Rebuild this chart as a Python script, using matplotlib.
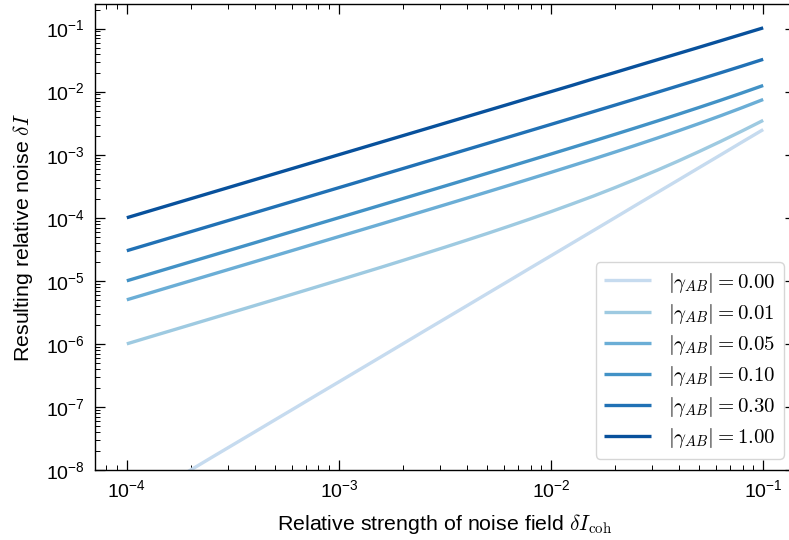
import numpy as np
import matplotlib
matplotlib.use("Agg")
import matplotlib.pyplot as plt
from matplotlib import ticker

plt.rcParams["font.family"] = ["Liberation Sans", "DejaVu Sans"]
plt.rcParams["mathtext.fontset"] = "cm"
plt.rcParams["axes.unicode_minus"] = False

# Relative strength of the noise field (sample positions along each curve)
noise_field = [1.0e-4, 1.26e-4, 1.58e-4, 2.0e-4, 2.51e-4, 3.16e-4, 3.98e-4, 5.01e-4, 6.31e-4, 7.94e-4,
               1.0e-3, 1.26e-3, 1.58e-3, 2.0e-3, 2.51e-3, 3.16e-3, 3.98e-3, 5.01e-3, 6.31e-3, 7.94e-3,
               1.0e-2, 1.26e-2, 1.58e-2, 2.0e-2, 2.51e-2, 3.16e-2, 3.98e-2, 5.01e-2, 6.31e-2, 7.94e-2,
               1.0e-1]

gamma_labels = ["0.00", "0.01", "0.05", "0.10", "0.30", "1.00"]

noise_g000 = [2.5e-9, 3.97e-9, 6.24e-9, 1.0e-8, 1.58e-8, 2.5e-8, 3.96e-8, 6.28e-8, 9.95e-8, 1.58e-7,
              2.5e-7, 3.97e-7, 6.24e-7, 1.0e-6, 1.58e-6, 2.5e-6, 3.96e-6, 6.28e-6, 9.95e-6, 1.58e-5,
              2.5e-5, 3.97e-5, 6.24e-5, 1.0e-4, 1.58e-4, 2.5e-4, 3.96e-4, 6.28e-4, 9.95e-4, 1.58e-3,
              2.5e-3]
noise_g001 = [1.0e-6, 1.264e-6, 1.586e-6, 2.01e-6, 2.526e-6, 3.185e-6, 4.02e-6, 5.07e-6, 6.41e-6, 8.10e-6,
              1.025e-5, 1.30e-5, 1.64e-5, 2.10e-5, 2.67e-5, 3.41e-5, 4.38e-5, 5.64e-5, 7.31e-5, 9.52e-5,
              1.25e-4, 1.66e-4, 2.20e-4, 3.0e-4, 4.09e-4, 5.66e-4, 7.94e-4, 1.129e-3, 1.626e-3, 2.37e-3,
              3.5e-3]
noise_g005 = [5.0e-6, 6.30e-6, 7.91e-6, 1.001e-5, 1.257e-5, 1.583e-5, 1.994e-5, 2.511e-5, 3.165e-5, 3.99e-5,
              5.03e-5, 6.34e-5, 7.96e-5, 1.01e-4, 1.271e-4, 1.605e-4, 2.03e-4, 2.568e-4, 3.254e-4, 4.128e-4,
              5.25e-4, 6.70e-4, 8.52e-4, 1.10e-3, 1.413e-3, 1.83e-3, 2.386e-3, 3.133e-3, 4.15e-3, 5.55e-3,
              7.5e-3]
noise_g010 = [1.0e-5, 1.26e-5, 1.58e-5, 2.0e-5, 2.51e-5, 3.16e-5, 3.98e-5, 5.02e-5, 6.32e-5, 7.96e-5,
              1.0025e-4, 1.264e-4, 1.586e-4, 2.01e-4, 2.526e-4, 3.185e-4, 4.02e-4, 5.07e-4, 6.41e-4, 8.10e-4,
              1.025e-3, 1.30e-3, 1.642e-3, 2.10e-3, 2.668e-3, 3.41e-3, 4.376e-3, 5.638e-3, 7.305e-3, 9.52e-3,
              1.25e-2]
noise_g030 = [3.0e-5, 3.78e-5, 4.74e-5, 6.0e-5, 7.53e-5, 9.48e-5, 1.194e-4, 1.503e-4, 1.893e-4, 2.382e-4,
              3.0e-4, 3.78e-4, 4.75e-4, 6.01e-4, 7.55e-4, 9.5e-4, 1.198e-3, 1.509e-3, 1.903e-3, 2.398e-3,
              3.025e-3, 3.82e-3, 4.80e-3, 6.10e-3, 7.69e-3, 9.73e-3, 1.234e-2, 1.566e-2, 1.993e-2, 2.54e-2,
              3.25e-2]
noise_g100 = [1.0e-4, 1.26e-4, 1.58e-4, 2.0e-4, 2.51e-4, 3.16e-4, 3.98e-4, 5.01e-4, 6.31e-4, 7.94e-4,
              1.0e-3, 1.26e-3, 1.58e-3, 2.0e-3, 2.51e-3, 3.16e-3, 3.98e-3, 5.01e-3, 6.31e-3, 7.96e-3,
              1.0e-2, 1.26e-2, 1.59e-2, 2.01e-2, 2.53e-2, 3.19e-2, 4.02e-2, 5.07e-2, 6.41e-2, 8.10e-2,
              1.025e-1]

series = [noise_g000, noise_g001, noise_g005, noise_g010, noise_g030, noise_g100]
colors = ["#c6dbef", "#9ecae1", "#6baed6", "#4292c6", "#2171b5", "#08519c"]

fig = plt.figure(figsize=(7.89, 5.40), dpi=100)
ax = fig.add_axes([95 / 789, 70 / 540, 700 / 789, 466 / 540])

for vals, lab, col in zip(series, gamma_labels, colors):
    ax.plot(noise_field, vals, color=col, lw=2.4, solid_capstyle="butt",
            label=r"$|\gamma_{AB}| = %s$" % lab)

ax.set_xscale("log")
ax.set_yscale("log")
ax.set_xlim(10 ** -4.15, 10 ** -0.85)
ax.set_ylim(1e-8, 0.245)

ax.yaxis.set_major_locator(ticker.LogLocator(base=10, numticks=12))
ax.yaxis.set_minor_locator(ticker.LogLocator(base=10, subs=np.arange(2, 10), numticks=12))
ax.yaxis.set_minor_formatter(ticker.NullFormatter())
ax.xaxis.set_minor_formatter(ticker.NullFormatter())

ax.tick_params(which="both", direction="in", top=True, right=True, labelsize=14)
ax.tick_params(which="major", length=7.5, width=0.9)
ax.tick_params(which="minor", length=3.5, width=0.7)
ax.tick_params(axis="x", which="major", pad=6.5)
ax.tick_params(axis="y", which="major", pad=7.5)
for sp in ax.spines.values():
    sp.set_linewidth(1.0)

ax.set_xlabel(r"Relative strength of noise field $\delta I_{\rm coh}$", fontsize=15.4, labelpad=8)
ax.set_ylabel(r"Resulting relative noise $\delta I$", fontsize=15.4, labelpad=7.5)

ax.legend(loc="lower right", fontsize=15, handlelength=2.25, labelspacing=0.34,
          framealpha=0.8, borderaxespad=0.55)

fig.savefig("out.png", dpi=100)
